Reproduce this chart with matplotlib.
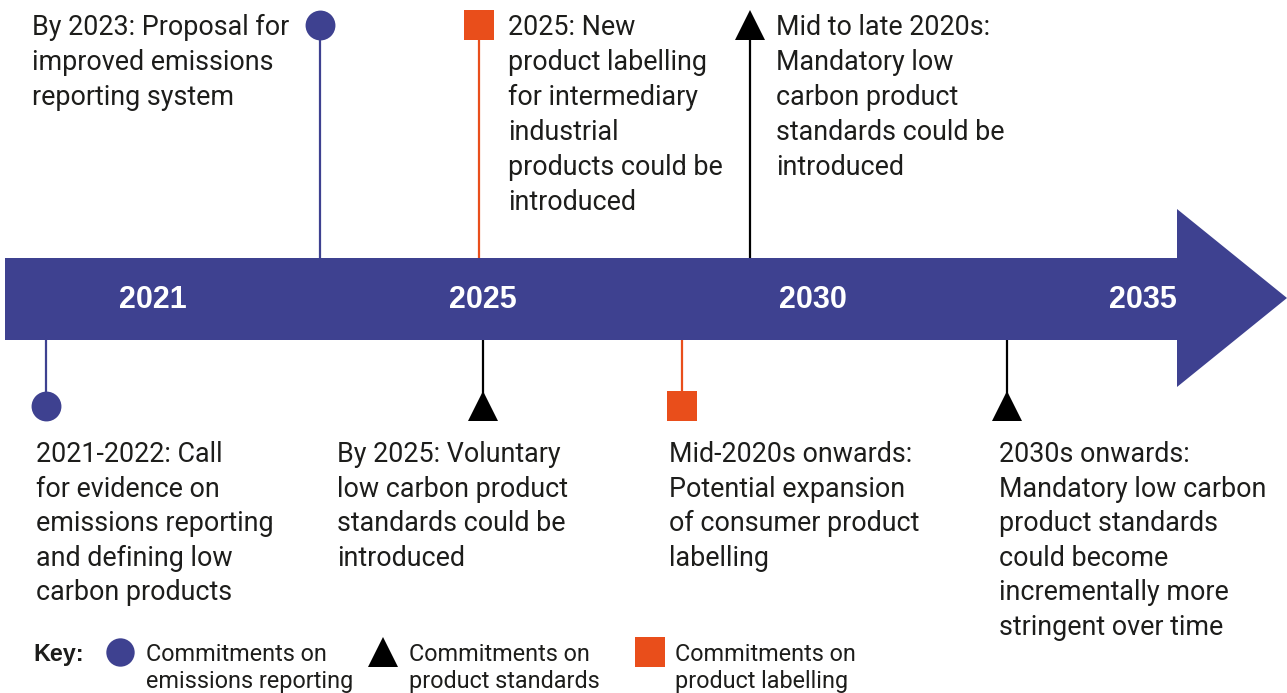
import matplotlib
matplotlib.use("Agg")
import matplotlib.pyplot as plt
from matplotlib.patches import Polygon

# ---------------- data ----------------
years = ["2021", "2025", "2030", "2035"]
year_pos = [0, 1, 2, 3]  # equally spaced labels on the timeline

# categories
cat_names = ["emissions", "standards", "labelling"]
cat_markers = {"emissions": "o", "standards": "^", "labelling": "s"}
PURPLE = "#3e4190"
ORANGE = "#e94e1b"
BLACK = "#000000"
cat_colors = {"emissions": PURPLE, "standards": BLACK, "labelling": ORANGE}

# events above the timeline: (timeline position, category, text)
top_pos = [0.506, 0.987, 1.809]
top_cat = ["emissions", "labelling", "standards"]
top_text = [
    "By 2023: Proposal for\nimproved emissions\nreporting system",
    "2025: New\nproduct labelling\nfor intermediary\nindustrial\nproducts could be\nintroduced",
    "Mid to late 2020s:\nMandatory low\ncarbon product\nstandards could be\nintroduced",
]
top_text_pos = [-0.367, 1.076, 1.888]

# events below the timeline
bot_pos = [-0.324, 1.0, 1.603, 2.588]
bot_cat = ["emissions", "standards", "labelling", "standards"]
bot_text = [
    "2021-2022: Call\nfor evidence on\nemissions reporting\nand defining low\ncarbon products",
    "By 2025: Voluntary\nlow carbon product\nstandards could be\nintroduced",
    "Mid-2020s onwards:\nPotential expansion\nof consumer product\nlabelling",
    "2030s onwards:\nMandatory low carbon\nproduct standards\ncould become\nincrementally more\nstringent over time",
]
bot_text_pos = [-0.355, 0.558, 1.564, 2.564]

legend_labels = ["Commitments on\nemissions reporting",
                 "Commitments on\nproduct standards",
                 "Commitments on\nproduct labelling"]
legend_cats = ["emissions", "standards", "labelling"]

# ---------------- layout ----------------
W, H = 1287, 693
fig = plt.figure(figsize=(W / 100, H / 100), dpi=100)
ax = fig.add_axes([0, 0, 1, 1])
unit = 330.0
x0 = 153.0
ax.set_xlim(-x0 / unit, (W - x0) / unit)
ax.set_ylim(H, 0)
ax.axis("off")

def px(xp):
    return (xp - x0) / unit

TEXT_FONT = ["Roboto", "DejaVu Sans"]
TXT = "#1d1d1b"
fs_main = 19.4
fs_leg = 16.8

band_top, band_bot = 258, 340
arrow = Polygon([(px(5), band_top), (px(1177), band_top), (px(1177), 209),
                 (px(1287), 298), (px(1177), 387), (px(1177), band_bot),
                 (px(5), band_bot)], closed=True, facecolor=PURPLE,
                edgecolor="none", zorder=2)
ax.add_patch(arrow)

for y, p in zip(years, year_pos):
    ax.text(p, 300, y, color="white", fontsize=22, fontweight="bold",
            family=["Liberation Sans", "DejaVu Sans"], ha="center",
            va="center", zorder=3)

msize = {"o": 21.5, "^": 22, "s": 22}

def draw_lines(xp, y_base, text, step, fs):
    for i, line in enumerate(text.split("\n")):
        ax.text(xp, y_base + i * step, line, fontsize=fs, family=TEXT_FONT,
                color=TXT, ha="left", va="baseline", fontweight="normal")

for p, c, t, tp in zip(top_pos, top_cat, top_text, top_text_pos):
    ax.plot([p, p], [25, band_top], color=cat_colors[c], lw=1.6, zorder=1)
    ax.plot([p], [25], marker=cat_markers[c], color=cat_colors[c],
            markersize=msize[cat_markers[c]], markeredgewidth=0, zorder=3)
    draw_lines(tp, 35, t, 35, fs_main)

for p, c, t, tp in zip(bot_pos, bot_cat, bot_text, bot_text_pos):
    ax.plot([p, p], [band_bot, 406], color=cat_colors[c], lw=1.6, zorder=1)
    ax.plot([p], [406], marker=cat_markers[c], color=cat_colors[c],
            markersize=msize[cat_markers[c]], markeredgewidth=0, zorder=3)
    draw_lines(tp, 462, t, 34.6, fs_main)

# legend
ax.text(px(33), 661, "Key:", fontsize=fs_leg, fontweight="bold",
        family=["Liberation Sans", "DejaVu Sans"], color=TXT, va="baseline")
leg_marker_x = [120, 383, 650]
leg_text_x = [146, 409, 675]
for mx, tx, lab, c in zip(leg_marker_x, leg_text_x, legend_labels, legend_cats):
    ax.plot([px(mx)], [652], marker=cat_markers[c], color=cat_colors[c],
            markersize=msize[cat_markers[c]] * 0.95, markeredgewidth=0)
    draw_lines(px(tx), 661, lab, 27, fs_leg)

fig.savefig("out.png", dpi=100)
